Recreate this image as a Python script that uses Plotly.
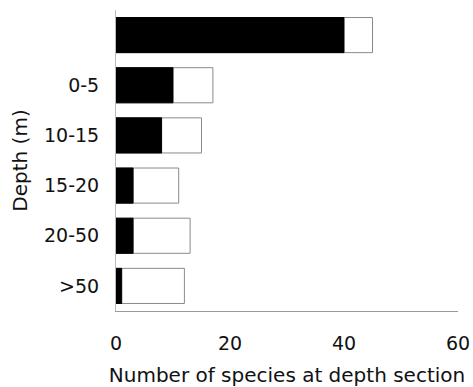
import plotly.graph_objects as go

depths = [" ", "0-5", "10-15", "15-20", "20-50", ">50"]
black_counts = [40, 10, 8, 3, 3, 1]
total_counts = [45, 17, 15, 11, 13, 12]
x_ticks = [0, 20, 40, 60]

fig = go.Figure()
fig.add_trace(go.Bar(
    y=depths, x=total_counts, orientation="h",
    marker=dict(color="white", line=dict(color="#8a8a8a", width=1)),
    showlegend=False, hoverinfo="skip",
))
fig.add_trace(go.Bar(
    y=depths, x=black_counts, orientation="h",
    marker=dict(color="black", line=dict(color="black", width=1)),
    showlegend=False, hoverinfo="skip",
))
fig.update_layout(
    width=473, height=387,
    margin=dict(l=116, r=15, t=10, b=76),
    barmode="overlay", bargap=0.3,
    plot_bgcolor="white", paper_bgcolor="white",
    font=dict(family="DejaVu Sans, sans-serif", size=19, color="#111"),
    xaxis=dict(
        range=[0, 60], tickvals=x_ticks, showgrid=False, zeroline=False,
        showline=True, linecolor="#999", linewidth=1, automargin=False,
        ticks="", ticklabelstandoff=15,
        title=dict(text="Number of species at depth section", standoff=15,
                   font=dict(size=20)),
    ),
    yaxis=dict(
        categoryorder="array", categoryarray=depths[::-1],
        showgrid=False, zeroline=False, automargin=False,
        showline=True, linecolor="#bbb", linewidth=1,
        ticks="", ticklabelstandoff=12,
        title=dict(text="Depth (m)", standoff=10, font=dict(size=20)),
    ),
)
fig.write_html("out.html", config={"displayModeBar": False},
               post_script="document.body.style.margin='0';")
